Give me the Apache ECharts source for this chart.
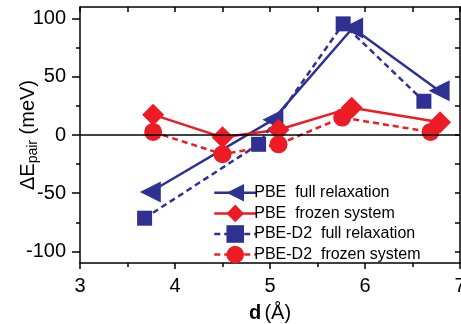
<!DOCTYPE html>
<html>
<head>
<meta charset="utf-8">
<script src="https://cdn.jsdelivr.net/npm/echarts@6/dist/echarts.min.js"></script>
<style>
  html, body { margin: 0; padding: 0; background: #fff; }
  #chart { width: 461px; height: 324px; }
</style>
</head>
<body>
<div id="chart"></div>
<script>
// values
const seriesNames = ['PBE  full relaxation', 'PBE  frozen system', 'PBE-D2  full relaxation', 'PBE-D2  frozen system'];
const pbeFullX = [3.74, 5.03, 5.87, 6.78];
const pbeFullY = [-49, 13, 92, 38];
const pbeFrozenX = [3.77, 4.5, 5.09, 5.86, 6.79];
const pbeFrozenY = [17.5, -2, 4.5, 23.5, 11];
const d2FullX = [3.68, 4.88, 5.77, 6.62];
const d2FullY = [-71.5, -8, 95.5, 29];
const d2FrozenX = [3.77, 4.5, 5.09, 5.76, 6.69];
const d2FrozenY = [2.6, -16.5, -8, 15, 2.6];
const yLabels = [-100, -50, 0, 50, 100];
const yMinor = [-75, -25, 25, 75];
const yAll = [-100, -75, -50, -25, 0, 25, 50, 75, 100];

const blue = '#2E3192';
const red = '#ED1C24';
const font = 'Liberation Sans, Arial, sans-serif';

function pairs(xs, ys) {
    return xs.map((x, i) => [x, ys[i]]);
}

const chart = echarts.init(document.getElementById('chart'));

const black = { color: '#000', width: 1.5 };

const option = {
    animation: false,
    grid: { left: 80, top: 7, right: 1, bottom: 61, containLabel: false, outerBoundsMode: 'none' },
    xAxis: [{
        type: 'value', min: 3, max: 7, interval: 1,
        axisLine: { onZero: false, lineStyle: black },
        axisTick: { length: 6, lineStyle: black },
        minorTick: { show: true, splitNumber: 2, length: 4, lineStyle: black },
        splitLine: { show: false },
        axisLabel: { color: '#000', fontSize: 20, fontFamily: font, margin: 13 },
        name: '{b|d} {a|(Å)}',
        nameLocation: 'middle', nameGap: 40, nameMoveOverlap: false,
        nameTextStyle: {
            rich: {
                a: { fontSize: 20, fontFamily: font, color: '#000' },
                b: { fontSize: 20, fontFamily: font, color: '#000', fontWeight: 'bold' }
            }
        }
    }, {
        type: 'value', position: 'top', min: 3, max: 7, interval: 0.5,
        axisLine: { onZero: false, lineStyle: black },
        axisTick: { inside: true, length: 5, lineStyle: black },
        axisLabel: { show: false },
        splitLine: { show: false }
    }],
    yAxis: [{
        type: 'value', min: -110, max: 110,
        axisLine: { onZero: false, lineStyle: black },
        axisTick: { length: 8, lineStyle: black, customValues: yLabels },
        splitLine: { show: false },
        axisLabel: { color: '#000', fontSize: 20, fontFamily: font, margin: 14, customValues: yLabels },
        name: '{a|ΔE}{s|pair}{a| (meV)}',
        nameLocation: 'middle', nameGap: 40, nameRotate: 90, nameMoveOverlap: false,
        nameTextStyle: {
            rich: {
                a: { fontSize: 20, fontFamily: font, color: '#000' },
                s: { fontSize: 14, fontFamily: font, color: '#000', verticalAlign: 'bottom', padding: [10, 0, 0, 0] }
            }
        }
    }, {
        type: 'value', position: 'right', min: -110, max: 110,
        axisLine: { onZero: false, lineStyle: black },
        axisTick: { inside: true, length: 5, lineStyle: black, customValues: yAll },
        axisLabel: { show: false },
        splitLine: { show: false }
    }, {
        type: 'value', position: 'left', offset: 0, min: -110, max: 110,
        axisLine: { show: false, onZero: false },
        axisTick: { length: 4, lineStyle: black, customValues: yMinor },
        axisLabel: { show: false },
        splitLine: { show: false }
    }],
    legend: {
        orient: 'vertical', left: 208, top: 179,
        itemWidth: 42, itemHeight: 22, itemGap: 3,
        lineStyle: { width: 2.5 },
        textStyle: { fontSize: 16, fontFamily: font, color: '#000', padding: [0, 0, 0, -7] },
        data: seriesNames
    },
    series: [{
        name: seriesNames[0], type: 'line', data: pairs(pbeFullX, pbeFullY),
        symbol: 'triangle', symbolRotate: 90, symbolSize: 21,
        lineStyle: { color: blue, width: 2.5 }, itemStyle: { color: blue },
        markLine: {
            silent: true, symbol: 'none', label: { show: false },
            lineStyle: { color: '#000', width: 1.5, type: 'solid' },
            data: [{ yAxis: 0 }]
        }
    }, {
        name: seriesNames[1], type: 'line', data: pairs(pbeFrozenX, pbeFrozenY),
        symbol: 'diamond', symbolSize: 22,
        lineStyle: { color: red, width: 2.5 }, itemStyle: { color: red }
    }, {
        name: seriesNames[2], type: 'line', data: pairs(d2FullX, d2FullY),
        symbol: 'rect', symbolSize: 15,
        lineStyle: { color: blue, width: 2.5, type: [6, 4] }, itemStyle: { color: blue }
    }, {
        name: seriesNames[3], type: 'line', data: pairs(d2FrozenX, d2FrozenY),
        symbol: 'circle', symbolSize: 18,
        lineStyle: { color: red, width: 2.5, type: [6, 4] }, itemStyle: { color: red }
    }]
};

chart.setOption(option);
</script>
</body>
</html>
